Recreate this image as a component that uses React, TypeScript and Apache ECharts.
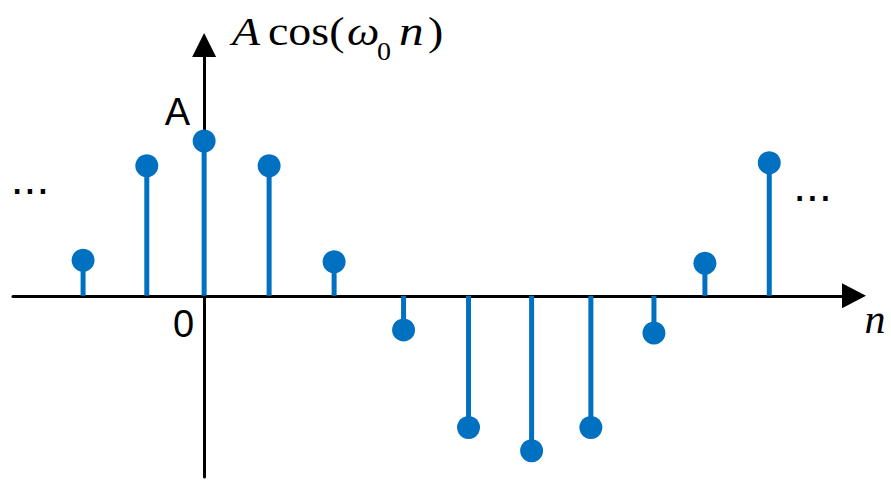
import React, { useEffect, useRef } from "react";
import * as echarts from "echarts";

// sample index positions and normalised amplitudes (A = 1)
const nPositions = [-1.9, -0.9, 0, 1.02, 2.04, 3.13, 4.15, 5.14, 6.07, 7.06, 7.86, 8.87];
const amplitudes = [0.23, 0.84, 1.0, 0.84, 0.22, -0.22, -0.85, -1.0, -0.85, -0.24, 0.21, 0.86];

const xRange = [-3, 10.2];
const yRange = [-1.17, 1.62];

const yTickLabel = "A";
const originLabel = "0";
const xAxisName = "n";
const ellipsis = "...";

const BLUE = "#0070C0";

export default function App() {
  const ref = useRef<HTMLDivElement>(null);

  useEffect(() => {
    if (!ref.current) return;
    const chart = echarts.init(ref.current, undefined, { renderer: "svg" });
    const points = nPositions.map((n, i) => [n, amplitudes[i]]);

    const serif = '"Liberation Serif", "Times New Roman", serif';
    const sans = '"Liberation Sans", Arial, sans-serif';

    chart.setOption({
      animation: false,
      backgroundColor: "#ffffff",
      grid: { left: 13, right: 37, top: 45, bottom: 4, containLabel: false },
      xAxis: {
        type: "value",
        min: xRange[0],
        max: xRange[1],
        axisLine: {
          show: true,
          onZero: true,
          symbol: ["none", "triangle"],
          symbolSize: [25, 24],
          lineStyle: { color: "#000", width: 3 },
        },
        axisTick: { show: false },
        axisLabel: { show: false },
        splitLine: { show: false },
      },
      yAxis: {
        type: "value",
        min: yRange[0],
        max: yRange[1],
        axisLine: {
          show: true,
          onZero: true,
          symbol: ["none", "triangle"],
          symbolSize: [24, 24],
          lineStyle: { color: "#000", width: 3 },
        },
        axisTick: { show: false },
        axisLabel: { show: false },
        splitLine: { show: false },
      },
      series: [
        {
          type: "custom",
          data: points,
          z: 3,
          renderItem: (params: any, api: any) => {
            const x = api.value(0);
            const v = api.value(1);
            const p0 = api.coord([x, 0]);
            const p1 = api.coord([x, v]);
            return {
              type: "line",
              shape: { x1: p0[0], y1: p0[1], x2: p1[0], y2: p1[1] },
              style: { stroke: BLUE, lineWidth: 5 },
            };
          },
        },
        {
          type: "scatter",
          data: points,
          symbol: "circle",
          symbolSize: 23,
          z: 4,
          itemStyle: { color: BLUE, opacity: 1 },
        },
      ],
      graphic: [
        // y-axis title A cos(ω0 n)
        { type: "text", x: 232, y: 31, scaleX: 1.12, z: 10,
          style: { text: "A", font: `italic 41px ${serif}`, fill: "#000", align: "left", verticalAlign: "middle" } },
        { type: "text", x: 268, y: 31, scaleX: 1.12, z: 10,
          style: { text: "cos(", font: `41px ${serif}`, fill: "#000", align: "left", verticalAlign: "middle" } },
        { type: "text", x: 347, y: 31, scaleX: 1.12, z: 10,
          style: { text: "ω", font: `italic 41px ${serif}`, fill: "#000", align: "left", verticalAlign: "middle" } },
        { type: "text", x: 377, y: 52, scaleX: 1.12, z: 10,
          style: { text: "0", font: `25px ${serif}`, fill: "#000", align: "left", verticalAlign: "middle" } },
        { type: "text", x: 399, y: 31, scaleX: 1.2, z: 10,
          style: { text: "n", font: `italic 41px ${serif}`, fill: "#000", align: "left", verticalAlign: "middle" } },
        { type: "text", x: 428, y: 31, scaleX: 1.12, z: 10,
          style: { text: ")", font: `41px ${serif}`, fill: "#000", align: "left", verticalAlign: "middle" } },
        // amplitude label
        { type: "text", x: 177.5, y: 112, z: 10,
          style: { text: yTickLabel, font: `38px ${sans}`, fill: "#000", align: "center", verticalAlign: "middle" } },
        // origin label
        { type: "text", x: 183.5, y: 324, z: 10,
          style: { text: originLabel, font: `38px ${sans}`, fill: "#000", align: "center", verticalAlign: "middle" } },
        // x axis name
        { type: "text", x: 875, y: 319, z: 10,
          style: { text: xAxisName, font: `italic 42px ${serif}`, fill: "#000", align: "center", verticalAlign: "middle" } },
        // continuation dots
        { type: "text", x: 30, y: 178, z: 10,
          style: { text: ellipsis, font: `46px ${sans}`, fill: "#000", align: "center", verticalAlign: "middle" } },
        { type: "text", x: 812.5, y: 185, z: 10,
          style: { text: ellipsis, font: `46px ${sans}`, fill: "#000", align: "center", verticalAlign: "middle" } },
      ],
    });

    return () => {
      chart.dispose();
    };
  }, []);

  return (
    <div
      ref={ref}
      style={{ position: "absolute", left: 0, top: 0, width: 891, height: 481, background: "#fff" }}
    />
  );
}
